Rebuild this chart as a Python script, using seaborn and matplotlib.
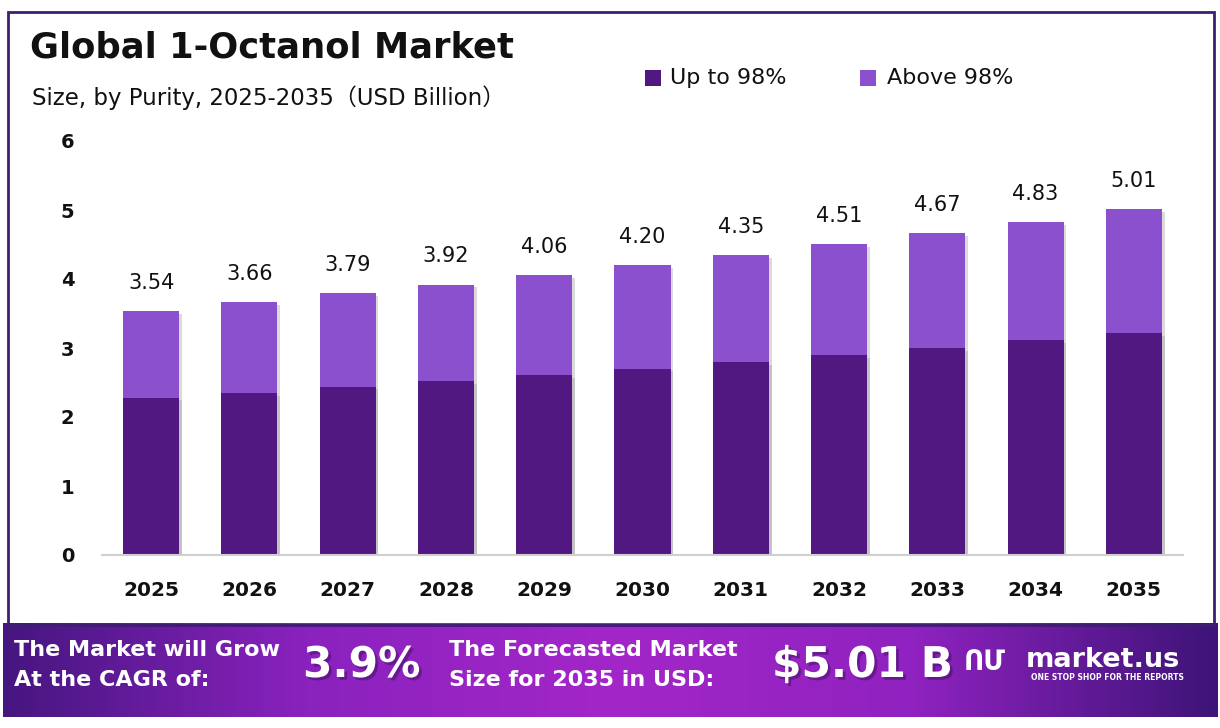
import numpy as np
import pandas as pd
import matplotlib
matplotlib.use("Agg")
import matplotlib.pyplot as plt
import matplotlib.patheffects as pe
from matplotlib.patches import Rectangle
from matplotlib.colors import LinearSegmentedColormap
import seaborn as sns

years = ["2025", "2026", "2027", "2028", "2029", "2030", "2031", "2032", "2033", "2034", "2035"]
totals = [3.54, 3.66, 3.79, 3.92, 4.06, 4.20, 4.35, 4.51, 4.67, 4.83, 5.01]
up_to_98 = [2.28, 2.35, 2.44, 2.52, 2.61, 2.70, 2.80, 2.90, 3.00, 3.11, 3.22]
above_98 = [round(t - u, 2) for t, u in zip(totals, up_to_98)]
series_names = ["Up to 98%", "Above 98%"]
y_ticks = [0, 1, 2, 3, 4, 5, 6]

DARK = "#501880"
LIGHT = "#8A50CE"

sns.set_theme(style="white")
plt.rcParams['font.family'] = ['DejaVu Sans', 'Noto Sans CJK SC']

fig = plt.figure(figsize=(12.2, 7.28), dpi=100)
W, H = 1220, 728

def fx(px):
    return px / W

def fy(py):
    return 1 - py / H

# outer frame
fig.patches.append(Rectangle((fx(8), fy(625)), fx(1214) - fx(8), fy(12) - fy(625),
                             transform=fig.transFigure, fill=False,
                             edgecolor="#3F1D72", linewidth=2.0, zorder=0))

ax = fig.add_axes([fx(102), fy(555), fx(1183) - fx(102), fy(141) - fy(555)])

df = pd.DataFrame({"year": years, "total": totals, "up": up_to_98, "above": above_98})

shadow = [pe.SimplePatchShadow(offset=(2, -2), shadow_rgbFace="#999999", alpha=0.35), pe.Normal()]

sns.barplot(data=df, x="year", y="total", color=LIGHT, width=0.57, ax=ax,
            saturation=1, label=series_names[1])
sns.barplot(data=df, x="year", y="up", color=DARK, width=0.57, ax=ax,
            saturation=1, label=series_names[0])
for p in ax.patches:
    p.set_path_effects(shadow)
    p.set_linewidth(0)

ax.set_xlim(-0.5, 10.5)
ax.set_ylim(0, 6)
ax.set_yticks(y_ticks)
ax.set_yticklabels([str(v) for v in y_ticks], fontsize=14, fontweight="bold", color="#111111")
ax.set_xticks(range(len(years)))
ax.set_xticklabels(years, fontsize=14.5, fontweight="bold", color="#111111")
ax.tick_params(axis="y", pad=20, length=0)
ax.tick_params(axis="x", pad=19, length=0)
ax.set_xlabel("")
ax.set_ylabel("")
for s in ["top", "right", "left"]:
    ax.spines[s].set_visible(False)
ax.spines["bottom"].set_color("#d0d0d0")
ax.spines["bottom"].set_linewidth(1.5)
if ax.legend_:
    ax.legend_.remove()

for i, t in enumerate(totals):
    ax.annotate(f"{t:.2f}", (i, t), xytext=(0, 13), textcoords="offset points",
                ha="center", va="bottom", fontsize=15, color="#111111")

# titles
fig.text(fx(30), fy(47), "Global 1-Octanol Market", fontsize=25.5, fontweight="bold",
         color="#111111", va="center", ha="left")
fig.text(fx(32), fy(98), "Size, by Purity, 2025-2035（USD Billion）", fontsize=16.5,
         color="#111111", va="center", ha="left")

# legend
for lx, tx, name, col in [(645, 670, series_names[0], DARK), (860, 887, series_names[1], LIGHT)]:
    fig.patches.append(Rectangle((fx(lx), fy(86)), fx(16), 16 / H, transform=fig.transFigure,
                                 facecolor=col, edgecolor="none"))
    fig.text(fx(tx), fy(78), name, fontsize=16, color="#111111", va="center", ha="left")

# bottom banner with gradient
bax = fig.add_axes([fx(3), fy(717), fx(1218) - fx(3), fy(623) - fy(717)])
cmap = LinearSegmentedColormap.from_list("ban", ["#461680", "#8A22BE", "#A326C8", "#8F22C0", "#3E1478"])
grad = np.linspace(0, 1, 512).reshape(1, -1)
bax.imshow(grad, aspect="auto", cmap=cmap, extent=[0, 1, 0, 1])
bax.set_xlim(0, 1)
bax.set_ylim(0, 1)
bax.axis("off")

big_shadow = [pe.SimpleLineShadow(offset=(2, -2), shadow_color="#2a0a45", alpha=0.45), pe.Normal()]
fig.text(fx(14), fy(650), "The Market will Grow", fontsize=16, fontweight="bold", color="white", va="center")
fig.text(fx(14), fy(680), "At the CAGR of:", fontsize=16, fontweight="bold", color="white", va="center")
fig.text(fx(303), fy(665), "3.9%", fontsize=30.5, fontweight="bold", color="white", va="center",
         path_effects=[pe.withSimplePatchShadow(offset=(2, -2), shadow_rgbFace="#2a0a45", alpha=0.4)])
fig.text(fx(449), fy(650), "The Forecasted Market", fontsize=16, fontweight="bold", color="white", va="center")
fig.text(fx(449), fy(680), "Size for 2035 in USD:", fontsize=16, fontweight="bold", color="white", va="center")
fig.text(fx(772), fy(665), "$5.01 B", fontsize=30.5, fontweight="bold", color="white", va="center",
         path_effects=[pe.withSimplePatchShadow(offset=(2, -2), shadow_rgbFace="#2a0a45", alpha=0.4)])

# logo
fig.text(fx(964), fy(662), "ՈՄ", fontsize=20, fontweight="bold", color="white", va="center")
fig.text(fx(1026), fy(660), "market.us", fontsize=19.5, fontweight="bold", color="white", va="center")
fig.text(fx(1031), fy(677), "ONE STOP SHOP FOR THE REPORTS", fontsize=5.5, fontweight="bold",
         color="white", va="center")

fig.savefig("out.png", dpi=100, facecolor="white")
